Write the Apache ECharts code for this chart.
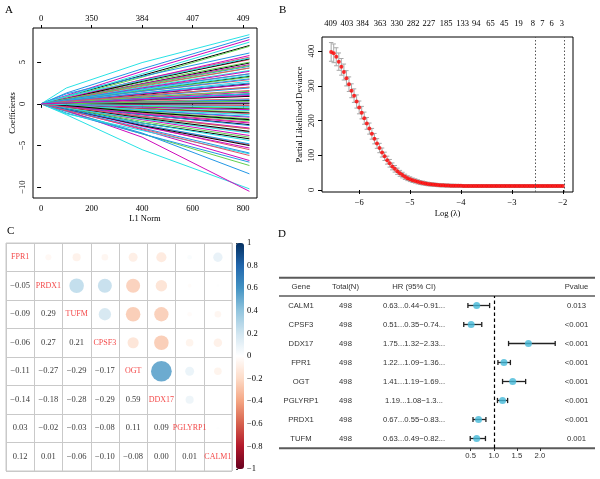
<!DOCTYPE html>
<html><head><meta charset="utf-8">
<script src="https://cdn.jsdelivr.net/npm/echarts@6/dist/echarts.min.js"></script>
<style>html,body{margin:0;padding:0;background:#fff}#c{width:600px;height:479px}</style>
</head><body><div id="c"></div>
<script>
// ---------- Panel A: LASSO coefficient paths ----------
var l1Steps = [0, 100, 400, 825];
var aBottomTicks = [0, 200, 400, 600, 800];
var aTopLabels = ['0', '350', '384', '407', '409'];
var aYTicks = [-10, -5, 0, 5];
// each path: coefficient at l1Steps
var lassoPaths = [
 [0,0.9,3.4,7.0],[0,0.6,2.9,5.6],[0,0.8,3.2,6.9],[0,1.3,4.2,8.0],[0,1.9,4.95,8.3],[0,1.0,3.9,7.7],
 [0,0.5,2.4,4.9],[0,-0.7,-2.6,-5.5],[0,-0.9,-3.6,-7.4],[0,-0.9,-3.5,-8.4],[0,-1.3,-5.5,-10.2],[0,-0.8,-4.0,-10.5],
 [0,0.4,1.6,3.3],[0,0.6,2.8,5.3],[0,0.5,2.1,4.3],[0,1.2,3.3,6.1],[0,0.9,3.6,7.4],[0,-0.7,-3.1,-6.8],
 [0,-0.5,-2.3,-4.2],[0,-0.6,-2.5,-4.9],[0,0.6,2.6,5.0],[0,-1.1,-3.6,-7.0],[0,-1.2,-3.2,-6.0],[0,0.7,2.9,5.8],
 [0,0.3,1.1,2.4],[0,0.4,1.9,3.6],[0,-0.4,-1.6,-3.0],[0,0.6,2.3,4.5],[0,0.3,1.3,2.7],[0,-0.6,-2.7,-5.3],
 [0,-0.3,-1.3,-2.5],[0,-0.5,-1.8,-3.4],[0,0.2,1.0,2.0],[0,-0.7,-2.9,-5.9],[0,0.5,2.0,4.0],[0,0.4,1.9,3.9],
 [0,0.1,0.6,1.2],[0,0.4,1.5,2.9],[0,-0.1,-0.5,-1.0],[0,0.2,0.9,1.9],[0,-0.6,-2.3,-4.4],[0,-0.5,-1.9,-3.8],
 [0,-0.1,-0.6,-1.1],[0,-0.3,-1.1,-2.2],[0,0.4,1.6,3.2],[0,-0.3,-1.3,-2.6],[0,-0.3,-1.0,-2.0],[0,0.3,1.2,2.3],
 [0,0.05,0.2,0.4],[0,0.2,0.8,1.6],[0,-0.3,-1.0,-2.0],[0,0.4,1.5,3.0],[0,0.2,0.6,1.2],[0,-0.2,-0.8,-1.6],
 [0,-0.1,-0.3,-0.6],[0,-0.2,-0.6,-1.2],[0,0.1,0.4,0.9],[0,-0.2,-0.8,-1.5],[0,0.0,0.1,0.2],[0,0.2,0.7,1.4],
 [0,0.1,0.5,0.9],[0,0.1,0.3,0.6],[0,-0.1,-0.3,-0.5],[0,0.1,0.2,0.5],[0,-0.1,-0.4,-0.8],[0,-0.4,-1.5,-2.9],
 [0,-0.4,-1.7,-3.3],[0,0.5,2.2,4.3],[0,0.2,0.8,1.5],[0,0.0,-0.1,-0.3],[0,0.5,1.7,3.4],[0,0.0,0.1,0.1],
 [0,0.6,2.7,5.4],[0,0.0,-0.1,-0.2],[0,-0.5,-2.1,-4.0],[0,0.3,1.3,2.5],[0,-0.2,-0.7,-1.3],[0,0.6,2.4,4.7],
 [0,-0.6,-2.6,-5.0],[0,-0.8,-3.0,-6.2],[0,0.6,2.3,4.6],[0,0.1,0.6,1.1],[0,-0.5,-1.8,-3.5],[0,-0.1,-0.4,-0.7],
 [0,0.0,0.0,0.0],[0,0.3,1.0,2.0],[0,-0.2,-0.9,-1.8],[0,-0.6,-2.5,-4.8],[0,0.9,2.8,5.5],[0,-0.3,-1.2,-2.3],
 [0,-0.2,-1.0,-1.9],[0,-0.4,-1.5,-3.0],[0,0.0,0.2,0.3],[0,0.5,1.8,3.6],[0,-0.1,-0.2,-0.4],[0,0.1,0.5,1.0]
];

// ---------- Panel B: cross-validation curve ----------
var logLambda = [-6.55,-6.50,-6.45,-6.40,-6.35,-6.30,-6.25,-6.20,-6.15,-6.10,
 -6.05,-6.00,-5.95,-5.90,-5.85,-5.80,-5.75,-5.70,-5.65,-5.60,
 -5.55,-5.50,-5.45,-5.40,-5.35,-5.30,-5.25,-5.20,-5.15,-5.10,
 -5.05,-5.00,-4.95,-4.90,-4.85,-4.80,-4.75,-4.70,-4.65,-4.60,
 -4.55,-4.50,-4.45,-4.40,-4.35,-4.30,-4.25,-4.20,-4.15,-4.10,
 -4.05,-4.00,-3.95,-3.90,-3.85,-3.80,-3.75,-3.70,-3.65,-3.60,
 -3.55,-3.50,-3.45,-3.40,-3.35,-3.30,-3.25,-3.20,-3.15,-3.10,
 -3.05,-3.00,-2.95,-2.90,-2.85,-2.80,-2.75,-2.70,-2.65,-2.60,
 -2.55,-2.50,-2.45,-2.40,-2.35,-2.30,-2.25,-2.20,-2.15,-2.10,
 -2.05,-2.00];
var deviance = [398,394,384,370,355,340,322,305,286,272,
 255,238,223,207,192,177,162,148,134,121,
 108,97,86,77,68,61,54,48,43,38,
 34,31,28,26,23.5,21.5,20,18.5,17.3,16.3,
 15.5,14.8,14.2,13.7,13.3,13.0,12.7,12.5,12.3,12.1,
 12.0,11.9,11.8,11.8,11.7,11.7,11.6,11.6,11.6,11.5,
 11.5,11.5,11.5,11.4,11.4,11.4,11.4,11.4,11.3,11.3,
 11.3,11.3,11.3,11.3,11.3,11.2,11.2,11.2,11.2,11.2,
 11.2,11.2,11.2,11.2,11.3,11.3,11.3,11.3,11.3,11.4,
 11.4,11.4];
var devSE = [27,27,26,25,24,23,22,21,20,19.5,
 19,18.5,18,17.5,17,16,15.5,15,14,13.5,
 13,12,11.5,11,10,9.5,9,8.5,8,7.5,
 7,6.8,6.5,6.2,6,5.8,5.6,5.4,5.2,5,
 4.9,4.8,4.7,4.6,4.5,4.4,4.3,4.2,4.2,4.1,
 4.1,4,4,4,4,4,4,4,4,4,
 4,4,4,4,4,4,4,4,4,4,
 4,4,4,4,4,4,4,4,4,4,
 4,4,4,4,4,4,4,4,4,4,
 4,4];
var lambdaLines = [-2.55, -1.98];
var bTopPos = [-6.56,-6.24,-5.93,-5.59,-5.26,-4.94,-4.63,-4.29,-3.97,-3.70,-3.42,-3.15,-2.87,-2.59,-2.40,-2.22,-2.02];
var bTopLabels = ['409','403','384','363','330','282','227','185','133','94','65','45','19','8','7','6','3'];
var bXTicks = [-6, -5, -4, -3, -2];
var bYTicks = [0, 100, 200, 300, 400];

// ---------- Panel C: correlation matrix ----------
var corrGenes = ['FPR1','PRDX1','TUFM','CPSF3','OGT','DDX17','PGLYRP1','CALM1'];
var corrLower = [
 [],
 [-0.05],
 [-0.09, 0.29],
 [-0.06, 0.27, 0.21],
 [-0.11, -0.27, -0.29, -0.17],
 [-0.14, -0.18, -0.28, -0.29, 0.59],
 [0.03, -0.02, -0.03, -0.08, 0.11, 0.09],
 [0.12, 0.01, -0.06, -0.10, -0.08, 0.00, 0.01]
];

// ---------- Panel D: forest plot ----------
var fGenes = ['CALM1','CPSF3','DDX17','FPR1','OGT','PGLYRP1','PRDX1','TUFM'];
var fTotal = ['498','498','498','498','498','498','498','498'];
var fHR = [0.63, 0.51, 1.75, 1.22, 1.41, 1.19, 0.67, 0.63];
var fLow = [0.44, 0.35, 1.32, 1.09, 1.19, 1.08, 0.55, 0.49];
var fHigh = [0.91, 0.74, 2.33, 1.36, 1.69, 1.30, 0.83, 0.82];
var fHRText = ['0.63...0.44\u22120.91...','0.51...0.35\u22120.74...','1.75...1.32\u22122.33...','1.22...1.09\u22121.36...',
 '1.41...1.19\u22121.69...','1.19...1.08\u22121.3...','0.67...0.55\u22120.83...','0.63...0.49\u22120.82...'];
var fPval = ['0.013','<0.001','<0.001','<0.001','<0.001','<0.001','<0.001','0.001'];
var fTicks = [0.5, 1.0, 1.5, 2.0];

// ================= build chart =================
var SERIF = 'Liberation Serif';
var SANS = 'Liberation Sans';
var rPal = ['#000000','#DF536B','#61D04F','#2297E6','#28E2E5','#CD0BBC'];
var RdBu = ['#67001F','#B2182B','#D6604D','#F4A582','#FDDBC7','#FFFFFF','#D1E5F0','#92C5DE','#4393C3','#2166AC','#053061'];

var chart = echarts.init(document.getElementById('c'), null, {renderer: 'canvas'});

function minusFmt(s) { return String(s).replace('-', '\u2212'); }

var grids = [
  {left: 33, top: 28, width: 224, height: 170, show: true, borderColor: '#000', borderWidth: 1, backgroundColor: 'transparent'},
  {left: 322, top: 37, width: 251, height: 155, show: true, borderColor: '#000', borderWidth: 1, backgroundColor: 'transparent'},
  {left: 6, top: 243, width: 226, height: 228, show: true, borderColor: '#c9c9c9', borderWidth: 1, backgroundColor: 'transparent'},
  {left: 236, top: 243, width: 8, height: 226, show: false},
  {left: 452.2, top: 296, width: 120.1, height: 152, show: false}
];

var xAxes = [
  // 0: A bottom
  {gridIndex: 0, type: 'value', min: -32, max: 855, position: 'bottom',
   axisLine: {show: false}, splitLine: {show: false},
   axisTick: {show: true, inside: false, length: 4, customValues: aBottomTicks, lineStyle: {color: '#000'}},
   axisLabel: {customValues: aBottomTicks, margin: 6, fontFamily: SERIF, fontSize: 8.5, color: '#000'},
   name: 'L1 Norm', nameLocation: 'middle', nameGap: 16, nameTextStyle: {fontFamily: SERIF, fontSize: 8.5, color: '#000'}},
  // 1: A top
  {gridIndex: 0, type: 'value', min: -32, max: 855, position: 'top',
   axisLine: {show: false}, splitLine: {show: false},
   axisTick: {show: true, inside: false, length: 3, customValues: aBottomTicks, lineStyle: {color: '#000'}},
   axisLabel: {customValues: aBottomTicks, margin: 5, fontFamily: SERIF, fontSize: 8.5, color: '#000',
     formatter: function (v) { var i = aBottomTicks.indexOf(v); return i >= 0 ? aTopLabels[i] : ''; }}},
  // 2: B bottom
  {gridIndex: 1, type: 'value', min: -6.73, max: -1.8, position: 'bottom',
   axisLine: {show: false}, splitLine: {show: false},
   axisTick: {show: true, inside: false, length: 4, customValues: bXTicks, lineStyle: {color: '#000'}},
   axisLabel: {customValues: bXTicks, margin: 6, fontFamily: SERIF, fontSize: 8.5, color: '#000', formatter: function (v) { return minusFmt(v); }},
   name: 'Log (\u03BB)', nameLocation: 'middle', nameGap: 17, nameTextStyle: {fontFamily: SERIF, fontSize: 8.5, color: '#000'}},
  // 3: B top
  {gridIndex: 1, type: 'value', min: -6.73, max: -1.8, position: 'top',
   axisLine: {show: false}, splitLine: {show: false},
   axisTick: {show: false},
   axisLabel: {customValues: bTopPos, margin: 9, fontFamily: SERIF, fontSize: 8.5, color: '#000', hideOverlap: false,
     formatter: function (v) { for (var i = 0; i < bTopPos.length; i++) { if (Math.abs(bTopPos[i] - v) < 1e-6) return bTopLabels[i]; } return ''; }}},
  // 4: C
  {gridIndex: 2, type: 'category', data: corrGenes, boundaryGap: true,
   axisLine: {show: false}, axisTick: {show: false}, axisLabel: {show: false},
   splitLine: {show: true, interval: 0, lineStyle: {color: '#c9c9c9', width: 1}}},
  // 5: colorbar dummy
  {gridIndex: 3, type: 'value', min: 0, max: 1, show: false},
  // 6: D forest
  {gridIndex: 4, type: 'value', min: 0.1, max: 2.7, position: 'bottom',
   axisLine: {show: false}, splitLine: {show: false},
   axisTick: {show: true, length: 3, customValues: fTicks, lineStyle: {color: '#333'}},
   axisLabel: {customValues: fTicks, margin: 4, fontFamily: SANS, fontSize: 7.7, color: '#333', formatter: function (v) { return v.toFixed(1); }}}
];

var revGenes = fGenes.slice().reverse();
function tableAxis(data, name, pos, offset) {
  return {gridIndex: 4, type: 'category', data: data, position: pos, offset: offset,
    axisLine: {show: false}, axisTick: {show: false}, splitLine: {show: false},
    axisLabel: {margin: 0, align: 'center', fontFamily: SANS, fontSize: 7.7, color: '#333'},
    name: name, nameLocation: 'end', nameGap: 9,
    nameTextStyle: {fontFamily: SANS, fontSize: 7.7, color: '#333', align: 'center', verticalAlign: 'middle'}};
}

var yAxes = [
  // 0: A
  {gridIndex: 0, type: 'value', min: -11.3, max: 9.1,
   axisLine: {show: false}, splitLine: {show: false},
   axisTick: {show: true, inside: false, length: 4, customValues: aYTicks, lineStyle: {color: '#000'}},
   axisLabel: {customValues: aYTicks, rotate: 90, margin: 6, fontFamily: SERIF, fontSize: 8.5, color: '#000', formatter: function (v) { return minusFmt(v); }},
   name: 'Coefficients', nameLocation: 'middle', nameGap: 14, nameRotate: 90, nameTextStyle: {fontFamily: SERIF, fontSize: 8.5, color: '#000'}},
  // 1: B
  {gridIndex: 1, type: 'value', min: -5.8, max: 441,
   axisLine: {show: false}, splitLine: {show: false},
   axisTick: {show: true, inside: false, length: 4, customValues: bYTicks, lineStyle: {color: '#000'}},
   axisLabel: {customValues: bYTicks, rotate: 90, margin: 6, fontFamily: SERIF, fontSize: 8.5, color: '#000'},
   name: 'Partial Likelihood Deviance', nameLocation: 'middle', nameGap: 18, nameRotate: 90, nameTextStyle: {fontFamily: SERIF, fontSize: 8.5, color: '#000'}},
  // 2: C
  {gridIndex: 2, type: 'category', data: corrGenes, inverse: true, boundaryGap: true,
   axisLine: {show: false}, axisTick: {show: false}, axisLabel: {show: false},
   splitLine: {show: true, interval: 0, lineStyle: {color: '#c9c9c9', width: 1}}},
  // 3: colorbar labels
  {gridIndex: 3, type: 'value', min: -1, max: 1, interval: 0.2, position: 'right',
   axisLine: {show: false}, splitLine: {show: false},
   axisTick: {show: true, length: 2, lineStyle: {color: '#333'}},
   axisLabel: {margin: 3, fontFamily: SERIF, fontSize: 8.5, color: '#000',
     formatter: function (v) { var r = Math.round(v * 10) / 10; return r === 0 ? '0' : minusFmt(String(r)); }}},
  // 4-7: D table columns
  tableAxis(revGenes, 'Gene', 'left', 452.2 - 301),
  tableAxis(fTotal.slice().reverse(), 'Total(N)', 'left', 452.2 - 345.5),
  tableAxis(fHRText.slice().reverse(), 'HR (95% CI)', 'left', 452.2 - 414),
  tableAxis(fPval.slice().reverse(), 'Pvalue', 'right', 576.5 - 572.3)
];

var series = [];

// Panel A lines
lassoPaths.forEach(function (p, i) {
  series.push({type: 'line', xAxisIndex: 0, yAxisIndex: 0, silent: true, animation: false,
    symbol: 'none', smooth: false,
    lineStyle: {width: 1, color: rPal[i % rPal.length]},
    data: l1Steps.map(function (x, k) { return [x, p[k]]; })});
});

// Panel B error bars
series.push({type: 'custom', xAxisIndex: 2, yAxisIndex: 1, silent: true, animation: false,
  data: logLambda.map(function (x, i) { return [x, deviance[i] - devSE[i], deviance[i] + devSE[i]]; }),
  renderItem: function (params, api) {
    var lo = api.coord([api.value(0), api.value(1)]);
    var hi = api.coord([api.value(0), api.value(2)]);
    var w = 2.2, st = {stroke: '#a8a8a8', lineWidth: 1};
    return {type: 'group', children: [
      {type: 'line', shape: {x1: lo[0], y1: lo[1], x2: hi[0], y2: hi[1]}, style: st},
      {type: 'line', shape: {x1: lo[0] - w, y1: lo[1], x2: lo[0] + w, y2: lo[1]}, style: st},
      {type: 'line', shape: {x1: hi[0] - w, y1: hi[1], x2: hi[0] + w, y2: hi[1]}, style: st}
    ]};
  }});
// Panel B points + lambda lines
series.push({type: 'scatter', xAxisIndex: 2, yAxisIndex: 1, silent: true, animation: false,
  symbol: 'circle', symbolSize: 4, itemStyle: {color: '#FF0000'},
  data: logLambda.map(function (x, i) { return [x, deviance[i]]; }),
  markLine: {silent: true, symbol: 'none', animation: false, label: {show: false},
    lineStyle: {color: '#555', type: [1.5, 2], width: 1},
    data: lambdaLines.map(function (v) { return {xAxis: v}; })}});

// Panel C circles (upper triangle), numbers (lower), names (diagonal)
var circleData = [], numData = [], diagData = [];
for (var i = 0; i < corrGenes.length; i++) {
  for (var j = 0; j < i; j++) {
    var r = corrLower[i][j];
    circleData.push([i, j, r]);
    numData.push([j, i, r]);
  }
  diagData.push([i, i, corrGenes[i]]);
}
var circleIdx = series.length;
series.push({type: 'scatter', xAxisIndex: 4, yAxisIndex: 2, silent: true, animation: false,
  symbol: 'circle', symbolSize: function (v) { return 27 * Math.sqrt(Math.abs(v[2])); },
  data: circleData});
series.push({type: 'scatter', xAxisIndex: 4, yAxisIndex: 2, silent: true, animation: false,
  symbolSize: 0, itemStyle: {color: 'transparent'},
  label: {show: true, position: 'inside', fontFamily: SERIF, fontSize: 8.5, color: '#000',
    formatter: function (p) { return minusFmt(p.value[2].toFixed(2)); }},
  data: numData});
series.push({type: 'scatter', xAxisIndex: 4, yAxisIndex: 2, silent: true, animation: false,
  symbolSize: 0, itemStyle: {color: 'transparent'},
  label: {show: true, position: 'inside', fontFamily: SERIF, fontSize: 8, color: '#F01818',
    formatter: function (p) { return p.value[2]; }},
  data: diagData});

// colorbar axis anchor
series.push({type: 'scatter', xAxisIndex: 5, yAxisIndex: 3, silent: true, data: [], symbolSize: 0});

// Panel D: CI bars
series.push({type: 'custom', xAxisIndex: 6, yAxisIndex: 4, silent: true, animation: false,
  encode: {x: [0, 1], y: 2},
  data: fGenes.map(function (g, i) { return [fLow[i], fHigh[i], g]; }),
  renderItem: function (params, api) {
    var a = api.coord([api.value(0), api.value(2)]);
    var b = api.coord([api.value(1), api.value(2)]);
    var h = 2.6, st = {stroke: '#222', lineWidth: 1.3};
    return {type: 'group', children: [
      {type: 'line', shape: {x1: a[0], y1: a[1], x2: b[0], y2: b[1]}, style: st},
      {type: 'line', shape: {x1: a[0], y1: a[1] - h, x2: a[0], y2: a[1] + h}, style: st},
      {type: 'line', shape: {x1: b[0], y1: b[1] - h, x2: b[0], y2: b[1] + h}, style: st}
    ]};
  }});
series.push({type: 'scatter', xAxisIndex: 6, yAxisIndex: 4, silent: true, animation: false,
  symbol: 'circle', symbolSize: 7, itemStyle: {color: '#45B9D8'},
  data: fGenes.map(function (g, i) { return [fHR[i], g]; }),
  markLine: {silent: true, symbol: 'none', animation: false, label: {show: false},
    lineStyle: {color: '#000', type: [3.5, 2.5], width: 1.2},
    data: [{xAxis: 1}]}});

var T = function (txt, x, y) {
  return {type: 'text', left: x, top: y, silent: true,
    style: {text: txt, font: '11px "Liberation Serif"', fill: '#000'}};
};
var ruleStyle = function (w) { return {stroke: '#5a5a5a', lineWidth: w}; };

var option = {
  animation: false,
  backgroundColor: '#fff',
  grid: grids,
  xAxis: xAxes,
  yAxis: yAxes,
  visualMap: [{type: 'continuous', min: -1, max: 1, dimension: 2, seriesIndex: [circleIdx],
    show: true, calculable: false, left: 236, top: 243, itemWidth: 8, itemHeight: 226, padding: 0,
    inRange: {color: RdBu}, hoverLink: false}],
  series: series,
  graphic: [
    T('A', 5, 5), T('B', 279, 5), T('C', 7, 226), T('D', 278, 229),
    {type: 'line', silent: true, shape: {x1: 279, y1: 277.7, x2: 595, y2: 277.7}, style: ruleStyle(2)},
    {type: 'line', silent: true, shape: {x1: 279, y1: 296, x2: 595, y2: 296}, style: ruleStyle(1.5)},
    {type: 'line', silent: true, shape: {x1: 279, y1: 448.3, x2: 595, y2: 448.3}, style: ruleStyle(2)}
  ]
};
chart.setOption(option);
</script></body></html>
